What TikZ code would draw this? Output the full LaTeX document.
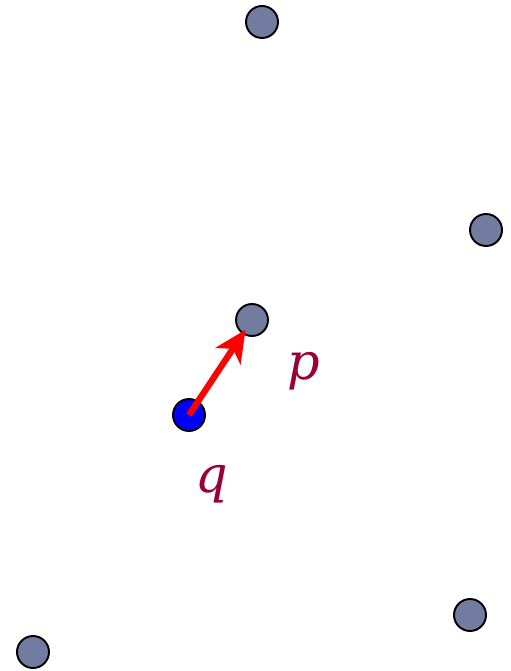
\documentclass[tikz,border=0pt]{standalone}
\usepackage{fontspec}
\usetikzlibrary{arrows.meta}
\newfontfamily\labelfont{DejaVu Serif}
\definecolor{dotgray}{RGB}{114,124,160}
\definecolor{labelred}{RGB}{153,0,51}
\begin{document}
\begin{tikzpicture}[x=0.02cm, y=-0.02cm, line width=1.1pt,
  site/.style={circle, draw=black, fill=dotgray, minimum size=0.64cm, inner sep=0pt},
  query/.style={site, fill=blue},
  lbl/.style={text=labelred, font=\labelfont\itshape\fontsize{29}{32}\selectfont, inner sep=0pt}]
  \useasboundingbox (0,0) rectangle (510,671);
  \node[site] (s1) at (262,22) {};
  \node[site] (s2) at (486,230) {};
  \node[site] (p) at (252,320) {};
  \node[site] (s4) at (470,615) {};
  \node[site] (s5) at (33,652) {};
  \node[query] (q) at (189,415) {};
  \draw[red, line width=3.6pt, shorten >=-3pt, -{Stealth[length=18pt, width=17pt, inset=5pt]}] (q.center) -- (p);
  \node[lbl] (plabel) at (304,371) {p};
  \node[lbl] (qlabel) at (212,484) {q};
\end{tikzpicture}
\end{document}
